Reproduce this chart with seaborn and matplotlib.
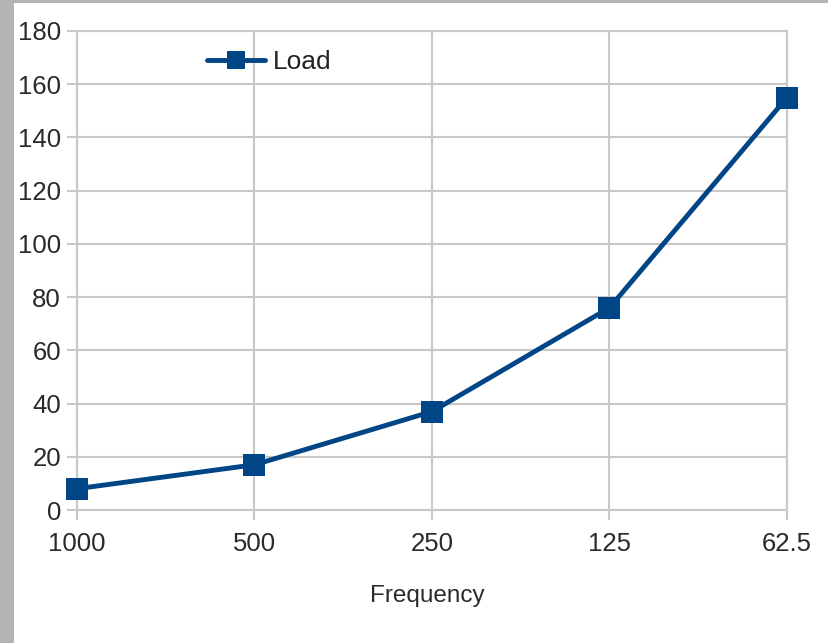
import matplotlib
matplotlib.use("Agg")
import matplotlib.pyplot as plt
import seaborn as sns
import pandas as pd
from matplotlib.patches import Rectangle

frequencies = ["1000", "500", "250", "125", "62.5"]
load = [8, 17, 37, 76, 155]
series_name = "Load"
y_ticks = [0, 20, 40, 60, 80, 100, 120, 140, 160, 180]

df = pd.DataFrame({"Frequency": frequencies, series_name: load})

sns.set_theme(style="white")
plt.rcParams["font.family"] = ["Liberation Sans", "DejaVu Sans"]

W, H = 829, 643
fig = plt.figure(figsize=(W / 100, H / 100), dpi=100)
fig.patch.set_facecolor("white")
# gray frame strips (left and top)
fig.patches.append(Rectangle((0, 0), 14 / W, 1, transform=fig.transFigure,
                             facecolor="#b3b3b3", edgecolor="none", zorder=0))
fig.patches.append(Rectangle((0, 1 - 3 / H), 1, 3 / H, transform=fig.transFigure,
                             facecolor="#b3b3b3", edgecolor="none", zorder=0))

left, right, top, bottom = 77 / W, 787 / W, 1 - 31 / H, 1 - 510 / H
ax = fig.add_axes([left, bottom, right - left, top - bottom])

line_color = "#004586"
sns.lineplot(data=df, x="Frequency", y=series_name, ax=ax, sort=False,
             color=line_color, linewidth=3.5, marker="s", markersize=15.5,
             markeredgewidth=0, label=series_name, clip_on=False, zorder=5)

ax.set_xlim(0, len(frequencies) - 1)
ax.set_ylim(0, 180)
ax.set_yticks(y_ticks)
ax.set_yticklabels([str(v) for v in y_ticks])

grid_c = "#c8c8c8"
ax.grid(True, color=grid_c, linewidth=1.5)
ax.set_axisbelow(True)
for s in ax.spines.values():
    s.set_color(grid_c)
    s.set_linewidth(1.5)
ax.tick_params(axis="both", which="major", length=7.5, width=1.5, color=grid_c,
               labelsize=18.5, labelcolor="#2a2a2a", direction="out")
ax.tick_params(axis="y", pad=4)
ax.tick_params(axis="x", pad=8)
ax.yaxis.set_ticks_position("left")
ax.xaxis.set_ticks_position("bottom")

ax.set_xlabel("Frequency", fontsize=17.5, color="#2a2a2a")
ax.xaxis.set_label_coords(0.493, -0.156)
ax.set_ylabel("")

leg = ax.legend(loc="center left", bbox_to_anchor=(183 / W, 1 - 62 / H),
                bbox_transform=fig.transFigure, frameon=False, fontsize=19,
                handlelength=2.2, handletextpad=0.3, markerscale=0.85)
for t in leg.get_texts():
    t.set_color("#222222")

fig.savefig("out.png", dpi=100)
